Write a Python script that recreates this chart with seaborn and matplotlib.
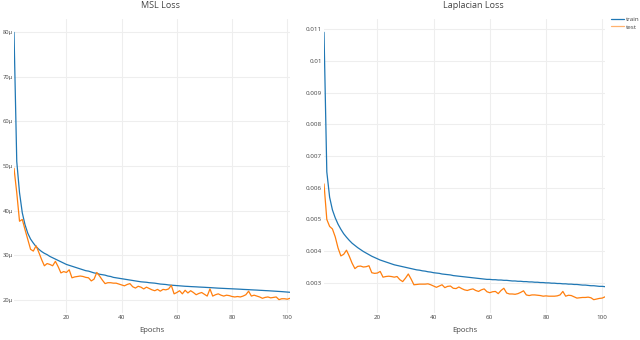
import numpy as np
import pandas as pd
import seaborn as sns
import matplotlib.pyplot as plt
from matplotlib.ticker import FixedLocator, FuncFormatter

epochs = list(range(1, 102))

# MSL loss, in micro units (1e-6)
msl_train = [80, 51, 44, 39.5, 36.8, 34.9, 33.6, 32.7, 31.9, 31.3,
             30.8, 30.4, 30.1, 29.7, 29.4, 29.1, 28.8, 28.5, 28.2, 27.9,
             27.7, 27.5, 27.3, 27.1, 26.9, 26.7, 26.5, 26.4, 26.2, 26.0,
             25.9, 25.7, 25.6, 25.5, 25.3, 25.2, 25.0, 24.9, 24.8, 24.7,
             24.6, 24.5, 24.4, 24.3, 24.2, 24.1, 24.0, 23.95, 23.9, 23.8,
             23.75, 23.7, 23.6, 23.5, 23.45, 23.4, 23.3, 23.25, 23.2, 23.15,
             23.1, 23.05, 23.0, 22.97, 22.93, 22.9, 22.87, 22.83, 22.8, 22.77,
             22.73, 22.7, 22.66, 22.62, 22.58, 22.55, 22.52, 22.49, 22.46, 22.43,
             22.4, 22.37, 22.34, 22.3, 22.27, 22.24, 22.2, 22.17, 22.14, 22.1,
             22.07, 22.03, 22.0, 21.96, 21.92, 21.88, 21.84, 21.8, 21.75, 21.7,
             21.65]
msl_test = [49.5, 44.0, 37.6, 38.0, 35.7, 33.5, 31.3, 30.9, 32.1, 30.6,
            29.0, 27.6, 28.1, 27.9, 27.6, 28.6, 27.4, 26.0, 26.3, 26.1,
            26.7, 24.9, 25.1, 25.2, 25.3, 25.2, 25.0, 24.9, 24.2, 24.6,
            26.1, 25.3, 24.4, 23.6, 23.8, 23.8, 23.7, 23.7, 23.5, 23.3,
            23.1, 23.4, 23.6, 22.9, 22.6, 23.0, 22.8, 22.4, 22.8, 22.5,
            22.2, 22.0, 22.3, 21.9, 22.3, 22.2, 22.4, 23.2, 21.3, 21.6,
            22.0, 21.3, 22.1, 21.5, 22.0, 21.6, 21.1, 21.4, 21.6, 21.2,
            20.8, 22.4, 20.8, 21.1, 21.3, 21.0, 20.8, 21.0, 20.9, 20.7,
            20.6, 20.7, 20.6, 20.8, 21.1, 21.9, 20.8, 21.0, 20.8, 20.6,
            20.3, 20.5, 20.6, 20.4, 20.5, 20.6, 20.0, 20.2, 20.2, 20.1,
            20.3]

lap_train = [0.01090, 0.00650, 0.00570, 0.00530, 0.00505, 0.00485, 0.00469, 0.00455, 0.00444, 0.00434,
             0.00425, 0.00418, 0.00411, 0.00405, 0.00399, 0.00394, 0.00389, 0.00384, 0.00380, 0.00376,
             0.00372, 0.00369, 0.00366, 0.00363, 0.00360, 0.00357, 0.00355, 0.00353, 0.00351, 0.00349,
             0.00347, 0.00345, 0.00343, 0.00341, 0.00340, 0.00338, 0.00337, 0.00335, 0.00334, 0.00332,
             0.00331, 0.00330, 0.00328, 0.00327, 0.00326, 0.00325, 0.00323, 0.00322, 0.00321, 0.00320,
             0.00319, 0.00318, 0.00317, 0.00316, 0.00315, 0.00314, 0.00313, 0.00312, 0.00311, 0.00311,
             0.00310, 0.00310, 0.00309, 0.00309, 0.00308, 0.00308, 0.00307, 0.00306, 0.00306, 0.00305,
             0.00305, 0.00304, 0.00304, 0.00303, 0.00303, 0.00302, 0.00302, 0.00301, 0.00301, 0.00300,
             0.00300, 0.00299, 0.00299, 0.00298, 0.00298, 0.00297, 0.00297, 0.00296, 0.00296, 0.00295,
             0.00295, 0.00294, 0.00293, 0.00293, 0.00292, 0.00291, 0.00291, 0.00290, 0.00289, 0.00289,
             0.00288]
lap_test = [0.00612, 0.00500, 0.00478, 0.00470, 0.00445, 0.00410, 0.00385, 0.00390, 0.00403, 0.00384,
            0.00362, 0.00345, 0.00352, 0.00353, 0.00350, 0.00351, 0.00354, 0.00332, 0.00330, 0.00331,
            0.00336, 0.00318, 0.00320, 0.00321, 0.00320, 0.00318, 0.00320, 0.00310, 0.00304, 0.00315,
            0.00328, 0.00312, 0.00294, 0.00295, 0.00296, 0.00296, 0.00296, 0.00297, 0.00294, 0.00290,
            0.00286, 0.00290, 0.00294, 0.00285, 0.00289, 0.00290, 0.00283, 0.00282, 0.00287, 0.00282,
            0.00278, 0.00276, 0.00279, 0.00281, 0.00276, 0.00273, 0.00278, 0.00281, 0.00272, 0.00269,
            0.00272, 0.00273, 0.00266, 0.00276, 0.00283, 0.00268, 0.00265, 0.00265, 0.00264, 0.00266,
            0.00270, 0.00275, 0.00262, 0.00260, 0.00262, 0.00262, 0.00261, 0.00260, 0.00258, 0.00259,
            0.00258, 0.00258, 0.00258, 0.00259, 0.00262, 0.00273, 0.00258, 0.00261, 0.00260, 0.00256,
            0.00252, 0.00253, 0.00254, 0.00254, 0.00255, 0.00253, 0.00247, 0.00249, 0.00251, 0.00252,
            0.00256]

msl_ticks = [20, 30, 40, 50, 60, 70, 80]
lap_ticks = [0.003, 0.004, 0.005, 0.006, 0.007, 0.008, 0.009, 0.01, 0.011]
x_ticks = [20, 40, 60, 80, 100]

sns.set_theme(style="whitegrid")
plt.rcParams['font.family'] = ['Open Sans', 'DejaVu Sans']

palette = {'train': '#1f77b4', 'test': '#ff7f0e'}
text_color = '#444444'


def long_frame(train, test):
    return pd.DataFrame({
        'epoch': epochs + epochs,
        'loss': train + test,
        'set': ['train'] * len(train) + ['test'] * len(test),
    })


fig = plt.figure(figsize=(6.4, 3.4), dpi=100)
ax_msl = fig.add_axes([14 / 640, 27 / 340, 276 / 640, 294 / 340])
ax_lap = fig.add_axes([324 / 640, 27 / 340, 281 / 640, 294 / 340])

sns.lineplot(data=long_frame(msl_train, msl_test), x='epoch', y='loss', hue='set',
             palette=palette, linewidth=0.9, ax=ax_msl, legend=False)
sns.lineplot(data=long_frame(lap_train, lap_test), x='epoch', y='loss', hue='set',
             palette=palette, linewidth=0.9, ax=ax_lap, legend=False)

ax_msl.set_ylim(17, 83)
ax_msl.yaxis.set_major_locator(FixedLocator(msl_ticks))
ax_msl.yaxis.set_major_formatter(FuncFormatter(lambda v, p: f"{v:g}μ"))

ax_lap.set_ylim(0.00205, 0.01132)
ax_lap.yaxis.set_major_locator(FixedLocator(lap_ticks))
ax_lap.yaxis.set_major_formatter(FuncFormatter(lambda v, p: f"{v:g}"))

for ax, title in [(ax_msl, 'MSL Loss'), (ax_lap, 'Laplacian Loss')]:
    ax.set_xlim(1, 101)
    ax.xaxis.set_major_locator(FixedLocator(x_ticks))
    ax.set_facecolor('white')
    for s in ax.spines.values():
        s.set_visible(False)
    ax.grid(True, color='#eeeeee', linewidth=0.8)
    ax.tick_params(axis='both', length=0, labelsize=4.5, colors=text_color, pad=1.5)
    ax.set_xlabel('Epochs', fontsize=5.5, color=text_color, labelpad=5)
    ax.set_ylabel('')
    ax.set_title(title, fontsize=6.5, color=text_color, x=0.53, pad=8)

ax_msl.tick_params(axis='y', pad=0.8, labelsize=4.2)

handles = [plt.Line2D([], [], color=palette['train'], linewidth=0.9),
           plt.Line2D([], [], color=palette['test'], linewidth=0.9, alpha=0.6)]
fig.legend(handles, ['train', 'test'], loc='upper left', bbox_to_anchor=(611 / 640, 1 - 17 / 340),
           frameon=False, fontsize=4.5, handlelength=2.0, handletextpad=0.4,
           labelspacing=0.3, borderaxespad=0, borderpad=0, labelcolor=text_color)

fig.savefig('out.png', dpi=100, facecolor='white')
